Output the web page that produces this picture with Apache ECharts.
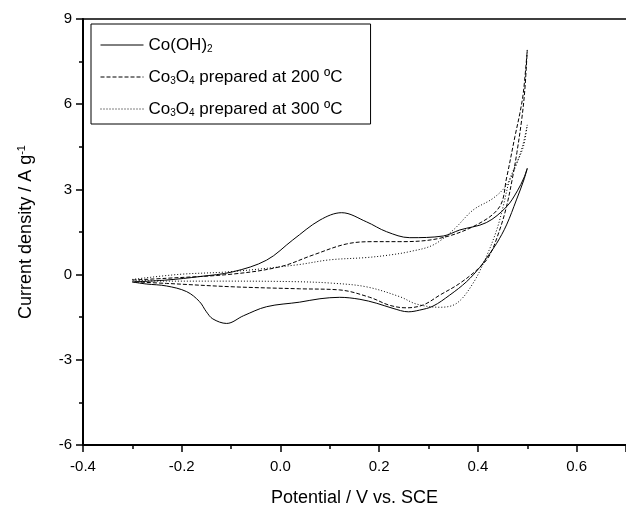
<!DOCTYPE html>
<html>
<head>
<meta charset="utf-8">
<script src="https://cdn.jsdelivr.net/npm/echarts@6/dist/echarts.min.js"></script>
<style>
    html, body { margin: 0; padding: 0; background: #fff; }
    #chart { width: 626px; height: 505px; }
</style>
</head>
<body>
<div id="chart"></div>
<script>
// cyclic voltammograms, [potential V, current density A/g]
// each loop: anodic sweep -0.3 -> 0.5, then back
const cobaltHydroxide = [
    [-0.3, -0.26], [-0.23, -0.19], [-0.164, -0.07], [-0.096, 0.10], [-0.028, 0.51],
    [0.025, 1.22], [0.08, 1.92], [0.124, 2.18], [0.174, 1.86], [0.215, 1.51],
    [0.262, 1.30], [0.33, 1.36], [0.363, 1.57], [0.417, 1.83], [0.458, 2.39],
    [0.48, 2.95], [0.493, 3.4], [0.5, 3.74],
    [0.493, 3.33], [0.478, 2.63], [0.458, 1.75], [0.438, 1.10], [0.417, 0.57],
    [0.404, 0.26], [0.377, -0.25], [0.343, -0.72], [0.309, -1.11], [0.282, -1.25],
    [0.259, -1.31], [0.228, -1.19], [0.195, -1.01], [0.161, -0.87], [0.12, -0.80],
    [0.08, -0.85], [0.039, -0.97], [-0.028, -1.13], [-0.075, -1.45], [-0.109, -1.72],
    [-0.137, -1.56], [-0.15, -1.31], [-0.164, -0.95], [-0.19, -0.60], [-0.231, -0.40],
    [-0.272, -0.33], [-0.3, -0.26]
];

const co3o4At200 = [
    [-0.3, -0.19], [-0.231, -0.13], [-0.096, 0.02], [0.0, 0.28], [0.066, 0.69],
    [0.134, 1.08], [0.188, 1.16], [0.242, 1.16], [0.323, 1.28], [0.397, 1.75],
    [0.444, 2.39], [0.458, 3.4], [0.475, 4.86], [0.485, 5.68], [0.492, 6.4],
    [0.5, 7.91],
    [0.495, 6.5], [0.489, 5.5], [0.479, 4.3], [0.47, 3.4], [0.458, 2.4],
    [0.444, 1.57], [0.424, 0.69], [0.404, 0.26], [0.363, -0.31], [0.323, -0.72],
    [0.289, -1.07], [0.255, -1.17], [0.221, -1.08], [0.181, -0.80], [0.12, -0.54],
    [0.039, -0.50], [-0.096, -0.43], [-0.231, -0.31], [-0.3, -0.25]
];

const co3o4At300 = [
    [-0.3, -0.17], [-0.204, 0.01], [-0.103, 0.10], [0.032, 0.34], [0.1, 0.52],
    [0.174, 0.60], [0.221, 0.69], [0.262, 0.81], [0.309, 1.04], [0.35, 1.57],
    [0.39, 2.27], [0.431, 2.69], [0.458, 3.15], [0.475, 3.75], [0.49, 4.5],
    [0.5, 5.27],
    [0.492, 4.5], [0.475, 3.8], [0.464, 3.33], [0.451, 2.39], [0.438, 1.57],
    [0.417, 0.63], [0.39, -0.31], [0.357, -1.01], [0.323, -1.15], [0.276, -1.04],
    [0.242, -0.78], [0.174, -0.43], [0.103, -0.30], [0.032, -0.25], [-0.096, -0.23],
    [-0.231, -0.23], [-0.3, -0.19]
];

const seriesNames = ['Co(OH)2', 'Co3O4 200', 'Co3O4 300'];
const legendLabels = [
    'Co(OH){sub|2}',
    'Co{sub|3}O{sub|4} prepared at 200 ºC',
    'Co{sub|3}O{sub|4} prepared at 300 ºC'
];
const lineTypes = ['solid', [4, 2], [1, 2]];

const FONT = '"Liberation Sans", Arial, sans-serif';

const chart = echarts.init(document.getElementById('chart'), null, { renderer: 'canvas' });

function makeSeries(name, data, type) {
    return {
        name,
        type: 'line',
        data,
        smooth: 0.35,
        symbol: 'none',
        lineStyle: { color: '#000', width: 1, type },
        itemStyle: { color: '#000' },
        animation: false
    };
}

const options = {
    backgroundColor: '#fff',
    animation: false,
    grid: {
        left: 83,
        right: 0,
        top: 19,
        bottom: 60,
        containLabel: false,
        outerBoundsMode: 'none'
    },
    legend: {
        left: 91,
        top: 24,
        orient: 'vertical',
        data: seriesNames,
        itemWidth: 43,
        itemHeight: 14,
        itemGap: 14,
        padding: [12, 28, 6, 9],
        borderColor: '#000',
        borderWidth: 1,
        itemStyle: { opacity: 0 },
        lineStyle: { width: 1 },
        formatter: name => legendLabels[seriesNames.indexOf(name)],
        textStyle: {
            fontFamily: FONT,
            fontSize: 17,
            lineHeight: 18,
            color: '#000',
            rich: {
                sub: { fontFamily: FONT, fontSize: 10, lineHeight: 18, color: '#000', padding: [8, 0, 0, 0] }
            }
        }
    },
    xAxis: [
        {
            type: 'value',
            min: -0.4,
            max: 0.7,
            interval: 0.2,
            name: 'Potential / V vs. SCE',
            nameLocation: 'middle',
            nameGap: 44,
            nameTextStyle: { fontFamily: FONT, fontSize: 18, color: '#000' },
            axisLine: { onZero: false, lineStyle: { color: '#000', width: 2 } },
            axisTick: { length: 7, lineStyle: { color: '#000', width: 1.5 } },
            minorTick: { show: true, splitNumber: 2, length: 4, lineStyle: { color: '#000', width: 1.5 } },
            splitLine: { show: false },
            axisLabel: {
                fontFamily: FONT, fontSize: 15, color: '#000', margin: 14,
                showMaxLabel: false,
                formatter: v => v.toFixed(1)
            }
        },
        {
            type: 'value',
            position: 'top',
            min: -0.4,
            max: 0.7,
            axisLine: { show: true, onZero: false, lineStyle: { color: '#000', width: 1.5 } },
            axisTick: { show: false },
            axisLabel: { show: false },
            splitLine: { show: false }
        }
    ],
    yAxis: {
        type: 'value',
        min: -6,
        max: 9,
        interval: 3,
        name: 'Current density / A g{sup|-1}',
        nameLocation: 'middle',
        nameGap: 47,
        nameTextStyle: {
            fontFamily: FONT, fontSize: 18, color: '#000',
            rich: { sup: { fontFamily: FONT, fontSize: 11, color: '#000', padding: [0, 0, 9, 0] } }
        },
        axisLine: { onZero: false, lineStyle: { color: '#000', width: 2 } },
        axisTick: { length: 7, lineStyle: { color: '#000', width: 1.5 } },
        minorTick: { show: true, splitNumber: 2, length: 4, lineStyle: { color: '#000', width: 1.5 } },
        splitLine: { show: false },
        axisLabel: { fontFamily: FONT, fontSize: 15, color: '#000', margin: 11 }
    },
    series: [
        makeSeries(seriesNames[0], cobaltHydroxide, lineTypes[0]),
        makeSeries(seriesNames[1], co3o4At200, lineTypes[1]),
        makeSeries(seriesNames[2], co3o4At300, lineTypes[2])
    ]
};

chart.setOption(options);
</script>
</body>
</html>
